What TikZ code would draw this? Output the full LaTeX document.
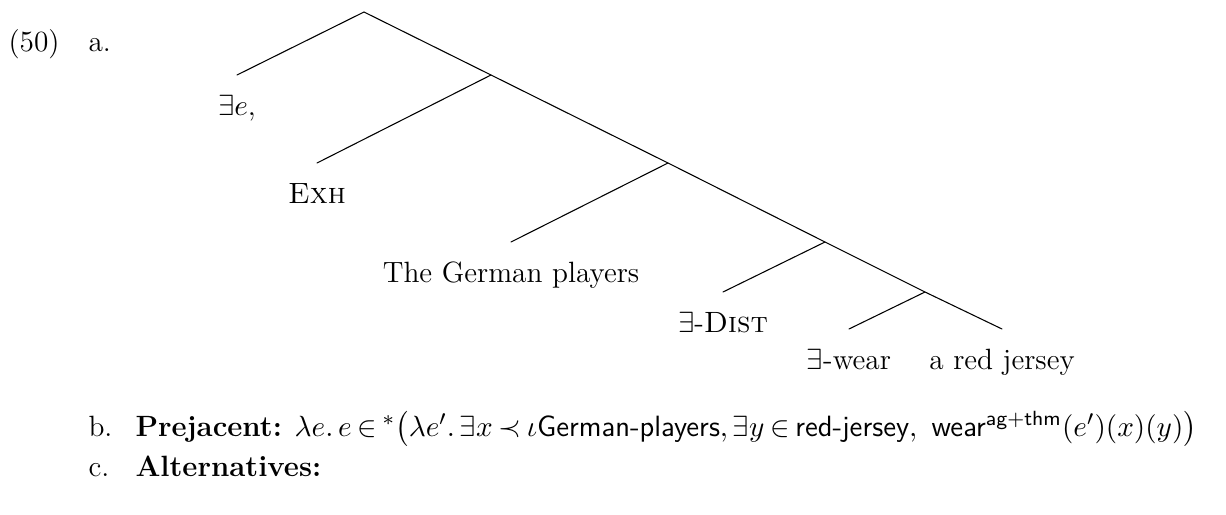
\documentclass[tikz,border=0pt]{standalone}
\usepackage{amsmath,amssymb}
\usepackage{fontspec}
\usetikzlibrary{positioning}

\begin{document}
\begin{tikzpicture}[x=.375pt,y=-.375pt,line cap=round,line join=round,
  every node/.style={font=\fontsize{11}{13}\selectfont,inner sep=0pt},
  leaf/.style={anchor=base},
  item/.style={anchor=base west}]
  \def\tt{\mskip-1.5mu}
  \useasboundingbox (0,0) rectangle (1226,514);
  % branching points along the right spine
  \foreach \n/\x/\y in {n0/364/12,n1/491/75,n2/668/163,n3/825/242,n4/925/292}
    \coordinate (\n) at (\x,\y);
  % leaves: end of the branch, word set under it
  \foreach \n/\x/\y/\t in {a/237/75/{$\exists e$,},b/317/163/{\textsc{Exh}},
    c/511/242/{The German players},d/723/292/{$\exists$-\textsc{Dist}},
    f/849/329/{$\exists$-wear},g/1002/329/{a red jersey}}{
    \coordinate (\n) at (\x,\y);
    \node[leaf] (\n w) at (\x,\y+40) {\t};
  }
  \draw (n0) -- (n1) -- (n2) -- (n3) -- (n4) -- (g);
  \foreach \p/\c in {n0/a,n1/b,n2/c,n3/d,n4/f}
    \draw (\p) -- (\c);
  % example number and sub-items
  \node[item] (num) at (8,52) {(50)};
  \node[item] (ia) at (88,52) {a.};
  \node[item] (ib) at (88,436) {b.};
  \node[item] (pre) at (135,436) {\textbf{Prejacent:}
    $\lambda e.\,e\tt\in\tt{}^{*}\bigl(\lambda e'.\,\exists x\tt\prec\tt\iota\textsf{German-players},
    \exists y\tt\in\tt\textsf{red-jersey},\ \textsf{wear}^{\textsf{ag+thm}}(e')(x)(y)\bigr)$};
  \node[item] (ic) at (88,476) {c.};
  \node[item] (alt) at (135,476) {\textbf{Alternatives:}};
\end{tikzpicture}
\end{document}
